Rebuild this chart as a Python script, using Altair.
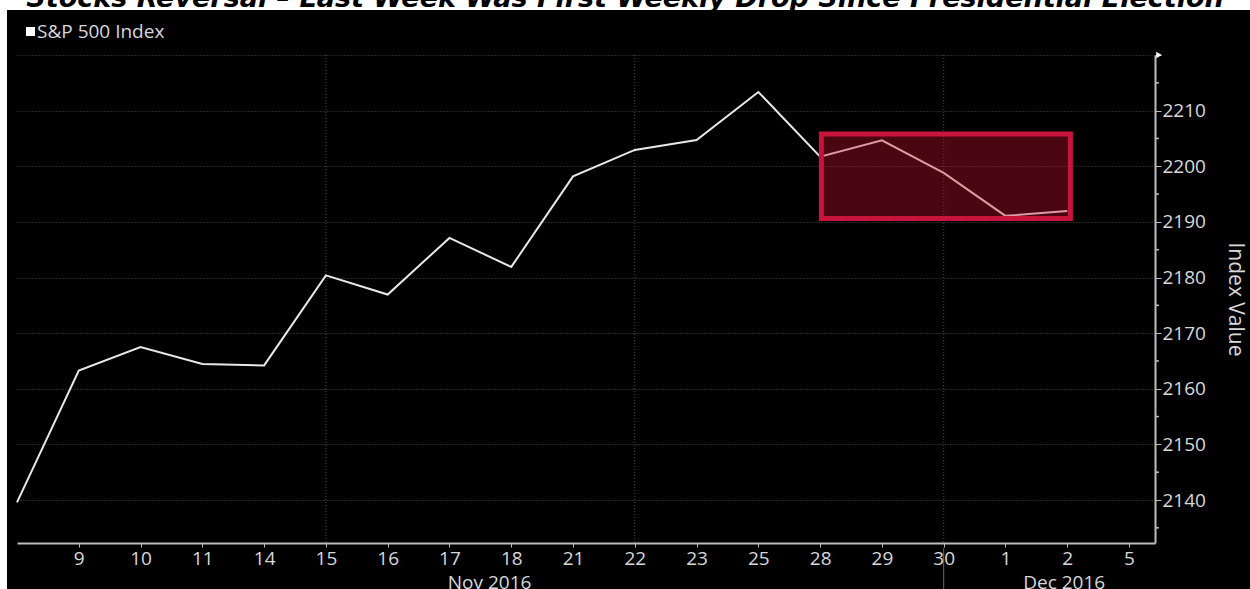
import altair as alt
import pandas as pd

# ---- data ----
day_labels = ["8", "9", "10", "11", "14", "15", "16", "17", "18", "21", "22",
              "23", "25", "28", "29", "30", "1", "2", "5"]
close = [2139.56, 2163.26, 2167.48, 2164.45, 2164.20, 2180.39, 2176.94, 2187.12,
         2181.90, 2198.18, 2202.94, 2204.72, 2213.35, 2201.72, 2204.66, 2198.81,
         2191.08, 2191.95]
months = ["Nov 2016", "Dec 2016"]
month_pos = [7.65, 16.95]
week_grid = [5, 10, 15]
y_ticks = [2140, 2150, 2160, 2170, 2180, 2190, 2200, 2210, 2220]
y_minor = [2135, 2145, 2155, 2165, 2175, 2185, 2195, 2205, 2215]
box_x = [13.02, 17.05]
box_y = [2190.6, 2205.8]
title_text = "Stocks Reversal \u2013 Last Week Was First Weekly Drop Since Presidential Election"
series_name = "S&P 500 Index"

W, H = 1138, 488
X_DOM = [0, 18.42]
Y_DOM = [2132.27, 2220]
TXT = "#d8d8d8"
FONT = "Open Sans"

df = pd.DataFrame({"i": list(range(len(close))), "v": close})
xs = alt.Scale(domain=X_DOM, nice=False, zero=False)
ys = alt.Scale(domain=Y_DOM, nice=False, zero=False)

label_map = "[" + ",".join('"%s"' % s for s in day_labels) + "][datum.value]"

x_axis = alt.Axis(values=list(range(1, len(day_labels))), labelExpr=label_map,
                  grid=False, title="", domainColor="#bdbdbd", domainWidth=2,
                  tickColor="#bdbdbd", tickSize=4, labelColor=TXT, labelFontSize=19,
                  labelFont=FONT, labelPadding=2)
y_axis = alt.Axis(orient="right", values=y_ticks, format="d",
                  labelExpr="datum.value < 2215 ? datum.label : ''",
                  grid=True, gridColor="#4a4a4a", gridDash=[1, 2], gridWidth=1,
                  domainColor="#bdbdbd", domainWidth=2, tickColor="#bdbdbd",
                  tickSize=6, labelColor=TXT, labelFontSize=19, labelFont=FONT,
                  labelPadding=1, title="Index Value", titleColor=TXT,
                  titleFontSize=21, titleFont=FONT, titleFontWeight="normal",
                  titlePadding=19)

white_top = alt.Chart(pd.DataFrame({"a": [0]})).mark_rect(color="white").encode(
    x=alt.value(-17), x2=alt.value(1233), y=alt.value(-55), y2=alt.value(-45))
white_left = alt.Chart(pd.DataFrame({"a": [0]})).mark_rect(color="white").encode(
    x=alt.value(-17), x2=alt.value(-10), y=alt.value(-45), y2=alt.value(534))

title = alt.Chart(pd.DataFrame({"t": [title_text]})).mark_text(
    font="DejaVu Sans", fontSize=27, fontWeight="bold", fontStyle="italic",
    color="black", align="center", baseline="alphabetic").encode(
    text="t:N", x=alt.value(608), y=alt.value(-48))

vgrid = alt.Chart(pd.DataFrame({"i": week_grid})).mark_rule(
    color="#4a4a4a", strokeDash=[1, 2], strokeWidth=1).encode(
    x=alt.X("i:Q", scale=xs, axis=x_axis), y=alt.value(0), y2=alt.value(H))

sep = alt.Chart(pd.DataFrame({"i": [week_grid[-1]]})).mark_rule(
    color="#6a6a6a", strokeWidth=1).encode(
    x=alt.X("i:Q", scale=xs, axis=x_axis), y=alt.value(H + 5), y2=alt.value(H + 60))

line = alt.Chart(df).mark_line(color="#e8e8e8", strokeWidth=2).encode(
    x=alt.X("i:Q", scale=xs, axis=x_axis),
    y=alt.Y("v:Q", scale=ys, axis=y_axis))

minor = alt.Chart(pd.DataFrame({"v": y_minor})).mark_rule(
    color="#bdbdbd", strokeWidth=1.5).encode(
    y=alt.Y("v:Q", scale=ys, axis=y_axis), x=alt.value(W), x2=alt.value(W + 4))

arrow = alt.Chart(pd.DataFrame({"a": [0]})).mark_point(
    shape="triangle-right", filled=True, color="white", size=40, opacity=1).encode(
    x=alt.value(W + 4), y=alt.value(0))

box = alt.Chart(pd.DataFrame({"i": [box_x[0]], "i2": [box_x[1]],
                              "v": [box_y[0]], "v2": [box_y[1]]})).mark_rect(
    fill="#d01030", fillOpacity=0.36, stroke="#c8143c", strokeWidth=5,
    strokeOpacity=1).encode(
    x=alt.X("i:Q", scale=xs, axis=x_axis), x2="i2:Q",
    y=alt.Y("v:Q", scale=ys, axis=y_axis), y2="v2:Q")

month_txt = alt.Chart(pd.DataFrame({"m": months, "i": month_pos})).mark_text(
    font=FONT, fontSize=19, color=TXT, baseline="alphabetic", align="center").encode(
    x=alt.X("i:Q", scale=xs, axis=x_axis), y=alt.value(H + 46), text="m:N")

leg_sq = alt.Chart(pd.DataFrame({"a": [0]})).mark_rect(color="white").encode(
    x=alt.value(9), x2=alt.value(18), y=alt.value(-28), y2=alt.value(-19))
leg_txt = alt.Chart(pd.DataFrame({"t": [series_name]})).mark_text(
    font=FONT, fontSize=19, color=TXT, align="left", baseline="middle").encode(
    x=alt.value(20), y=alt.value(-23), text="t:N")

chart = alt.layer(
    white_top, white_left, title, vgrid, sep, line, minor, arrow, box,
    month_txt, leg_sq, leg_txt
).properties(
    width=W, height=H,
    autosize=alt.AutoSizeParams(type="none"),
    padding={"left": 17, "top": 55, "right": 95, "bottom": 46},
    background="black",
).configure_view(stroke=None)

chart.save("out.html", embed_options={"renderer": "svg", "actions": False})
